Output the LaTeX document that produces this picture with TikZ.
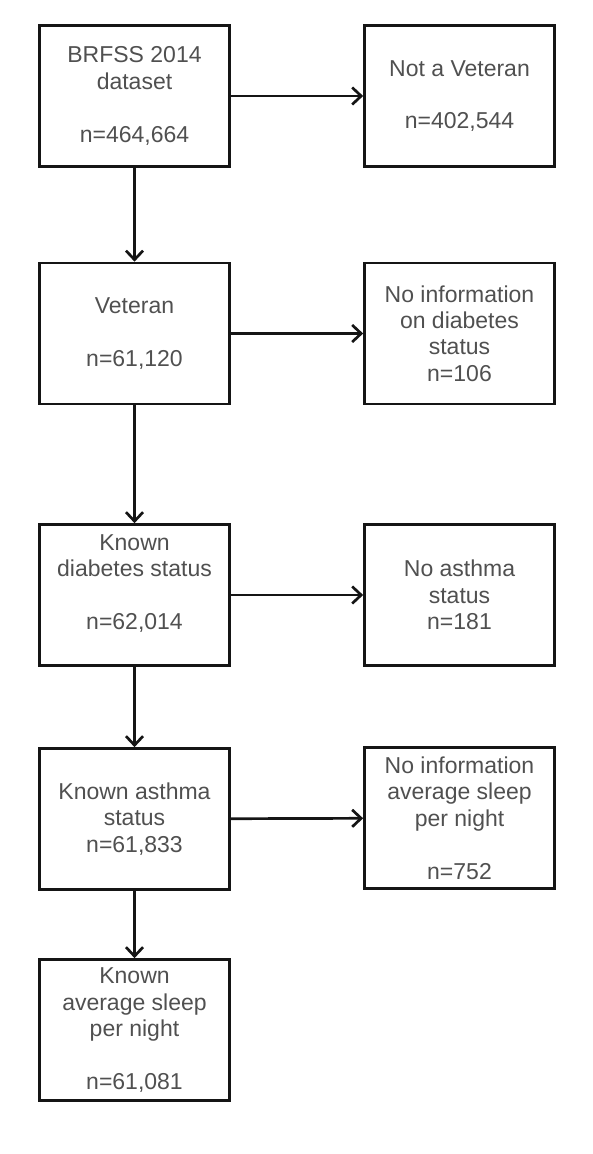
\documentclass[tikz,border=0pt]{standalone}
\usepackage{fontspec}
\setmainfont{Liberation Sans}
\usetikzlibrary{arrows.meta}
\definecolor{txt}{HTML}{505050}
\definecolor{ln}{HTML}{151515}
\tikzset{
  box/.style={draw=ln, line width=2.7pt, minimum width=190pt, minimum height=141pt,
    inner sep=0pt, align=center, text=txt, font=\fontsize{23}{26.4}\selectfont},
  conn/.style={draw=ln, line width=2.7pt, -{Straight Barb[length=9pt,width=17pt,line width=2.7pt]}}
}
\begin{document}
\begin{tikzpicture}[x=1pt,y=-1pt]
\useasboundingbox (0,0) rectangle (592,1154);
\node[box] (b1) at (134.5,96) {BRFSS 2014\\dataset\\[26.4pt]n=464,664};
\node[box] (b2) at (134.5,333.5) {Veteran\\[26.4pt]n=61,120};
\node[box] (b3) at (134.5,595) {Known\\diabetes status\\[26.4pt]n=62,014\\\mbox{}};
\node[box] (b4) at (134.5,819) {Known asthma\\status\\n=61,833};
\node[box] (b5) at (134.5,1030) {Known\\average sleep\\per night\\[26.4pt]n=61,081};
\node[box] (r1) at (459.5,96) {Not a Veteran\\[26.4pt]n=402,544};
\node[box] (r2) at (459.5,333.5) {No information\\on diabetes\\status\\n=106};
\node[box] (r3) at (459.5,595) {No asthma\\status\\n=181};
\node[box] (r4) at (459.5,818) {No information\\average sleep\\per night\\[26.4pt]n=752};
\draw[conn] (b1) -- (b2);
\draw[conn] (b2) -- (b3);
\draw[conn] (b3) -- (b4);
\draw[conn] (b4) -- (b5);
\draw[conn] (b1) -- (r1);
\draw[conn] (b2) -- (r2);
\draw[conn] (b3) -- (r3);
\draw[conn] (b4) -- (r4);
\end{tikzpicture}
\end{document}
